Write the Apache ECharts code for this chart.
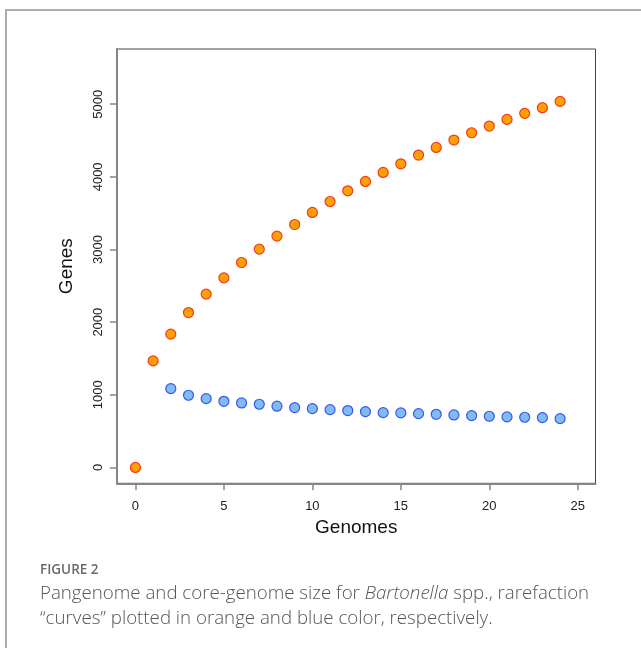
<!DOCTYPE html>
<html>
<head>
<meta charset="utf-8">
<script src="https://cdn.jsdelivr.net/npm/echarts@6/dist/echarts.min.js"></script>
<style>
html,body{margin:0;padding:0;background:#fff;}
#chart{width:641px;height:648px;}
</style>
</head>
<body>
<div id="chart"></div>
<script>
// Data
var genomes = [0,1,2,3,4,5,6,7,8,9,10,11,12,13,14,15,16,17,18,19,20,21,22,23,24];
var pangenome = [0,1467,1835,2132,2386,2610,2821,3005,3184,3344,3510,3661,3808,3937,4061,4180,4300,4405,4507,4607,4699,4791,4874,4952,5039];
var coreGenomes = [2,3,4,5,6,7,8,9,10,11,12,13,14,15,16,17,18,19,20,21,22,23,24];
var coreGenome = [1085,994,948,911,888,870,843,824,810,796,783,769,755,751,741,732,723,714,705,696,691,686,672];
var xTicks = [0,5,10,15,20,25];
var yTicks = [0,1000,2000,3000,4000,5000];
var xTitle = 'Genomes';
var yTitle = 'Genes';
var captionLabel = 'FIGURE 2';

var panData = genomes.map(function(g,i){return [g, pangenome[i]];});
var coreData = coreGenomes.map(function(g,i){return [g, coreGenome[i]];});

var chart = echarts.init(document.getElementById('chart'), null, {renderer:'canvas'});
var axisGray = '#858585';
var plain = function(v){return String(v);};
var option = {
  backgroundColor:'#fff',
  animation:false,
  grid:{left:117, top:49, width:478.5, height:434.3, show:true, borderColor:'#444', borderWidth:1, backgroundColor:'transparent'},
  xAxis:{
    type:'value', min:-1.04, max:26,
    splitLine:{show:false},
    axisLine:{show:true, onZero:false, lineStyle:{color:axisGray, width:2}},
    axisTick:{show:true, customValues:xTicks, length:7, lineStyle:{color:axisGray, width:1.5}},
    axisLabel:{customValues:xTicks, formatter:plain, margin:17, color:'#222', fontSize:13, fontFamily:'"Liberation Sans", Arial, sans-serif'},
    name:xTitle, nameLocation:'middle', nameGap:34,
    nameTextStyle:{color:'#111', fontSize:19, fontFamily:'"Liberation Sans", Arial, sans-serif'}
  },
  yAxis:{
    type:'value', min:-218, max:5760,
    splitLine:{show:false},
    axisLine:{show:true, onZero:false, lineStyle:{color:axisGray, width:2}},
    axisTick:{show:true, customValues:yTicks, length:7, lineStyle:{color:axisGray, width:1.5}},
    axisLabel:{customValues:yTicks, formatter:plain, rotate:90, margin:12, color:'#222', fontSize:13, fontFamily:'"Liberation Sans", Arial, sans-serif'},
    name:yTitle, nameLocation:'middle', nameGap:41,
    nameTextStyle:{color:'#111', fontSize:19, fontFamily:'"Liberation Sans", Arial, sans-serif'}
  },
  series:[
    {type:'scatter', name:'Pangenome', data:panData, symbol:'circle', symbolSize:10,
     itemStyle:{color:'#FFA000', borderColor:'#F23A1E', borderWidth:1.2, opacity:1}},
    {type:'scatter', name:'Core genome', data:coreData, symbol:'circle', symbolSize:10,
     itemStyle:{color:'#80BCF0', borderColor:'#3A55F0', borderWidth:1.2, opacity:1}}
  ],
  graphic:[
    {type:'rect', silent:true, z:-10, shape:{x:6, y:10, width:700, height:700},
     style:{fill:'none', stroke:'#acacac', lineWidth:2}},
    {type:'text', left:40, top:563, silent:true,
     style:{text:captionLabel, fill:'#6a6a6a', font:'600 13.5px "Open Sans", sans-serif'}},
    {type:'text', left:40, top:584, silent:true,
     style:{text:'{a|Pangenome and core-genome size for }{i|Bartonella}{a| spp., rarefaction}\n{a|\u201Ccurves\u201D plotted in orange and blue color, respectively.}',
       rich:{
         a:{fill:'#555', fontSize:18.7, fontFamily:'"Open Sans", sans-serif', fontWeight:300, lineHeight:25},
         i:{fill:'#555', fontSize:18.7, fontFamily:'"Open Sans", sans-serif', fontStyle:'italic', fontWeight:300, lineHeight:25}
       }}}
  ]
};
chart.setOption(option);
</script>
</body>
</html>
